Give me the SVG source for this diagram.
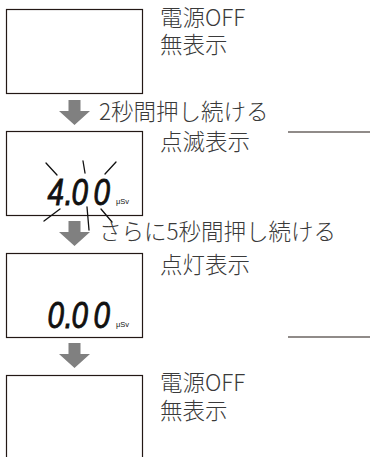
<svg xmlns="http://www.w3.org/2000/svg" width="370" height="457" viewBox="0 0 370 457">
<style>
.box{fill:#fff;stroke:#231815;stroke-width:1.2}
.lbl{font-family:"Noto Sans CJK JP","Noto Sans",sans-serif;font-size:22.5px;font-weight:300;fill:#3a3a3a}
.arr{fill:#808080}
.seg{font-family:"Liberation Sans",Arial,sans-serif;font-size:37px;font-style:italic;fill:#111;stroke:#111;stroke-width:0.9}
.unit{font-family:"Liberation Sans",Arial,sans-serif;font-size:7.5px;fill:#111}
.blink{stroke:#111;stroke-width:1.3;stroke-linecap:round}
.rule{stroke:#231815;stroke-width:1.2}
</style>
<defs>
<path id="arrow" class="arr" d="M68.5 0H80.5V11H90L74.5 25L59 11H68.5Z"/>
</defs>
<rect width="370" height="457" fill="#fff"/>
<g id="state1">
<rect class="box" x="6.5" y="9.5" width="136" height="84"/>
<text class="lbl"><tspan x="160" y="26">電源OFF</tspan><tspan x="160" y="53">無表示</tspan></text>
</g>
<g id="state2">
<rect class="box" x="6.5" y="131.5" width="136" height="84"/>
<text class="lbl" x="160" y="150">点滅表示</text>
<text class="seg" transform="scale(0.8 1)" x="59.5 80.5 89.5 117" y="205">4.00</text>
<text class="unit" x="116" y="204">μSv</text>
<g id="blink-marks">
<line class="blink" x1="46" y1="163" x2="57" y2="175"/>
<line class="blink" x1="83" y1="161" x2="85" y2="173"/>
<line class="blink" x1="116" y1="162" x2="105" y2="174"/>
<line class="blink" x1="60" y1="209" x2="44" y2="221"/>
<line class="blink" x1="87" y1="207" x2="89" y2="230"/>
<line class="blink" x1="101" y1="209" x2="112" y2="222"/>
</g>
</g>
<g id="state3">
<rect class="box" x="6.5" y="253.5" width="136" height="84"/>
<text class="lbl" x="160" y="273">点灯表示</text>
<text class="seg" transform="scale(0.8 1)" x="59.5 80.5 89.5 117" y="328">0.00</text>
<text class="unit" x="116" y="327">μSv</text>
</g>
<g id="state4">
<rect class="box" x="6.5" y="375.5" width="136" height="95"/>
<text class="lbl"><tspan x="160" y="391">電源OFF</tspan><tspan x="160" y="419">無表示</tspan></text>
</g>
<g id="connectors">
<use href="#arrow" y="100"/>
<text class="lbl" x="99" y="120">2秒間押し続ける</text>
<use href="#arrow" y="221"/>
<text class="lbl" x="99" y="240">さらに5秒間押し続ける</text>
<use href="#arrow" y="343"/>
</g>
<g id="rules">
<line class="rule" x1="288" y1="132" x2="370" y2="132"/>
<line class="rule" x1="288" y1="337" x2="370" y2="337"/>
</g>
</svg>
